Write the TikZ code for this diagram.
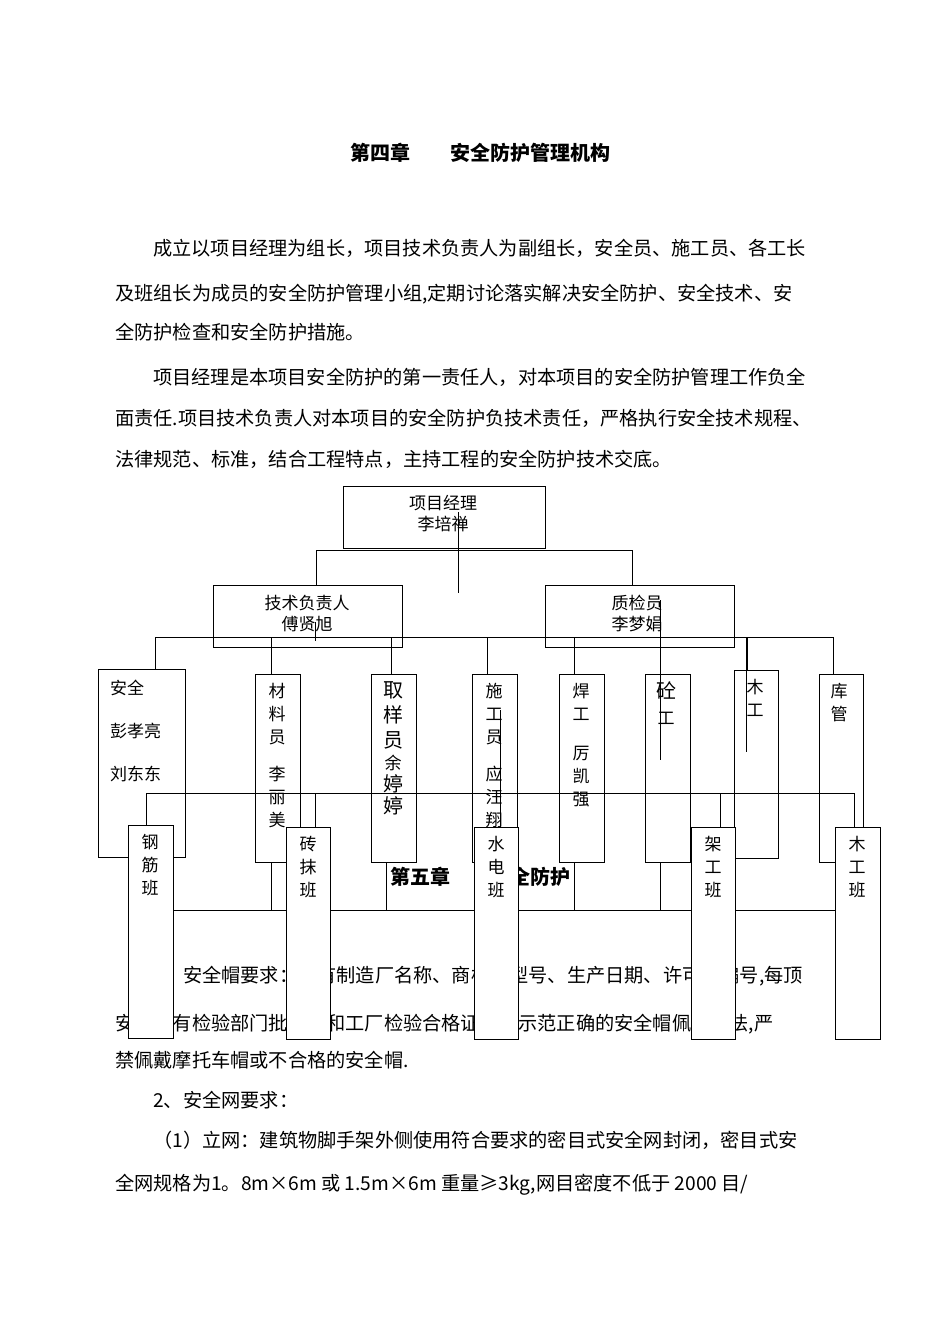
\documentclass[tikz,border=0pt]{standalone}
\usepackage{fontspec}
\setmainfont{Noto Sans CJK SC}
\begin{document}
\begin{tikzpicture}[x=1pt,y=-1pt,
  box/.style={draw,line width=0.9pt,fill=white,inner sep=0pt},
  ln/.style={line width=0.9pt},
  para/.style={anchor=base west,inner sep=0pt,font=\fontsize{19.2}{19.2}\selectfont},
  ctext/.style={inner sep=0pt,align=center,font=\fontsize{17}{21}\selectfont},
  vtext/.style={inner sep=0pt,anchor=north,align=center,font=\fontsize{17}{23}\selectfont}]
\useasboundingbox[fill=white] (0,0) rectangle (950,1344);
% title and paragraphs
\node[anchor=base,inner sep=0pt,font=\fontsize{20}{20}\selectfont\bfseries] (title) at (480,160) {第四章\hspace{2em}安全防护管理机构};
\node[para] (p1) at (153,255) {成立以项目经理为组长，项目技术负责人为副组长，安全员、施工员、各工长};
\node[para] (p2) at (115,300) {及班组长为成员的安全防护管理小组,定期讨论落实解决安全防护、安全技术、安};
\node[para] (p3) at (115,339) {全防护检查和安全防护措施。};
\node[para] (p4) at (153,384) {项目经理是本项目安全防护的第一责任人，对本项目的安全防护管理工作负全};
\node[para] (p5) at (115,425) {面责任.项目技术负责人对本项目的安全防护负技术责任，严格执行安全技术规程、};
\node[para] (p6) at (115,466) {法律规范、标准，结合工程特点，主持工程的安全防护技术交底。};
\node[anchor=base,inner sep=0pt,font=\fontsize{20}{20}\selectfont\bfseries] (ch5) at (480,884) {第五章\hspace{2em}安全防护};
\node[para] (q1) at (153,982) {1、安全帽要求：须有制造厂名称、商标、型号、生产日期、许可证编号,每顶};
\node[para] (q2) at (115,1030) {安全帽有检验部门批量验和工厂检验合格证，并示范正确的安全帽佩戴方法,严};
\node[para] (q3) at (115,1067) {禁佩戴摩托车帽或不合格的安全帽.};
\node[para] (q4) at (153,1107) {2、安全网要求：};
\node[para] (q5) at (153,1147) {（1）立网：建筑物脚手架外侧使用符合要求的密目式安全网封闭，密目式安};
\node[para] (q6) at (115,1190) {全网规格为1。8m×6m 或 1.5m×6m 重量≥3kg,网目密度不低于 2000 目/};
% top levels
\draw[box] (343,486) rectangle (545,548);
\node[ctext] (pm) at (443,514) {项目经理\\李培禅};
\draw[box] (213,585) rectangle (402,647);
\node[ctext] (tech) at (307,614) {技术负责人\\傅贤旭};
\draw[box] (545,585) rectangle (734,647);
\node[ctext] (qc) at (637,614) {质检员\\李梦娟};
\draw[ln] (316,585) -- (316,550) -- (632,550) -- (632,585);
\draw[ln] (458,512) -- (458,593);
\draw[ln] (155,674) -- (155,637) -- (833,637) -- (833,674);
\foreach \x in {271,391,487,574,660,747} \draw[ln] (\x,637) -- (\x,674);
\draw[ln] (315,622) -- (315,641);
% middle row boxes
\draw[box] (98,669) rectangle (185,857);
\node[inner sep=0pt,anchor=north west,align=left,font=\fontsize{17}{43}\selectfont] (s1) at (110,680) {安全\\彭孝亮\\刘东东};
\draw[box] (255,674) rectangle (300,862);
\node[vtext] (s2) at (277,683) {材\\料\\员\\[14pt]李\\丽\\美};
\draw[box] (371,674) rectangle (416,862);
\node[vtext,font=\fontsize{20}{25}\selectfont] (s3) at (393,681) {取\\样\\员\\[-3pt]{\fontsize{17}{17}\selectfont 余}\\[-3pt]婷\\[-3pt]婷};
\draw[box] (472,674) rectangle (517,862);
\node[vtext] (s4) at (494,683) {施\\工\\员\\[14pt]应\\汪\\翔};
\draw[box] (559,674) rectangle (604,862);
\node[vtext] (s5) at (581,683) {焊\\工\\[16pt]厉\\凯\\强};
\draw[box] (645,674) rectangle (690,862);
\node[vtext,font=\fontsize{20}{26}\selectfont] (s6) at (666,681) {砼\\{\fontsize{17}{17}\selectfont 工}};
\draw[box] (734,670) rectangle (778,858);
\node[vtext] (s7) at (755,679) {木\\工};
\draw[box] (819,674) rectangle (863,862);
\node[vtext] (s8) at (839,683) {库\\管};
\draw[ln] (746,637) -- (746,752);
\draw[ln] (660,600) -- (660,760);
\draw[ln] (500,710) -- (500,827);
% connecting lines
\draw[ln] (146,825) -- (146,793) -- (854,793) -- (854,835);
\draw[ln] (315,793) -- (315,827);
\draw[ln] (720,793) -- (720,827);
\draw[ln] (156,825) -- (156,910) -- (848,910) -- (848,835);
\foreach \x in {271,386,574,660} \draw[ln] (\x,862) -- (\x,910);
% bottom row boxes
\draw[box] (128,825) rectangle (173,1038);
\node[vtext] (b1) at (150,834) {钢\\筋\\班};
\draw[box] (286,827) rectangle (330,1039);
\node[vtext] (b2) at (308,836) {砖\\抹\\班};
\draw[box] (474,827) rectangle (518,1039);
\node[vtext] (b3) at (496,836) {水\\电\\班};
\draw[box] (691,827) rectangle (735,1039);
\node[vtext] (b4) at (713,836) {架\\工\\班};
\draw[box] (835,827) rectangle (880,1039);
\node[vtext] (b5) at (857,836) {木\\工\\班};
\end{tikzpicture}
\end{document}
